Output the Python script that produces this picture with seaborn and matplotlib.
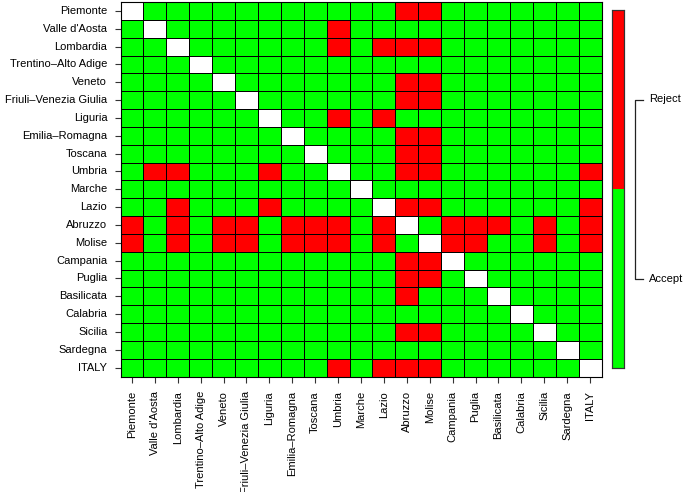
import numpy as np
import pandas as pd
import matplotlib
matplotlib.use("Agg")
import matplotlib.pyplot as plt
from matplotlib.colors import ListedColormap
import seaborn as sns

regions = ["Piemonte", "Valle d'Aosta", "Lombardia", "Trentino\u2013Alto Adige", "Veneto",
           "Friuli\u2013Venezia Giulia", "Liguria", "Emilia\u2013Romagna", "Toscana", "Umbria",
           "Marche", "Lazio", "Abruzzo", "Molise", "Campania", "Puglia", "Basilicata",
           "Calabria", "Sicilia", "Sardegna", "ITALY"]

# rejected pairs (row, list of rejected columns); the matrix is symmetric, diagonal empty
rejects = {
    "Piemonte": ["Abruzzo", "Molise"],
    "Valle d'Aosta": ["Umbria"],
    "Lombardia": ["Umbria", "Lazio", "Abruzzo", "Molise"],
    "Trentino\u2013Alto Adige": [],
    "Veneto": ["Abruzzo", "Molise"],
    "Friuli\u2013Venezia Giulia": ["Abruzzo", "Molise"],
    "Liguria": ["Umbria", "Lazio"],
    "Emilia\u2013Romagna": ["Abruzzo", "Molise"],
    "Toscana": ["Abruzzo", "Molise"],
    "Umbria": ["Valle d'Aosta", "Lombardia", "Liguria", "Abruzzo", "Molise", "ITALY"],
    "Marche": [],
    "Lazio": ["Lombardia", "Liguria", "Abruzzo", "Molise", "ITALY"],
    "Abruzzo": ["Piemonte", "Lombardia", "Veneto", "Friuli\u2013Venezia Giulia", "Emilia\u2013Romagna",
                "Toscana", "Umbria", "Lazio", "Campania", "Puglia", "Basilicata", "Sicilia", "ITALY"],
    "Molise": ["Piemonte", "Lombardia", "Veneto", "Friuli\u2013Venezia Giulia", "Emilia\u2013Romagna",
               "Toscana", "Umbria", "Lazio", "Campania", "Puglia", "Sicilia", "ITALY"],
    "Campania": ["Abruzzo", "Molise"],
    "Puglia": ["Abruzzo", "Molise"],
    "Basilicata": ["Abruzzo"],
    "Calabria": [],
    "Sicilia": ["Abruzzo", "Molise"],
    "Sardegna": [],
    "ITALY": ["Umbria", "Lazio", "Abruzzo", "Molise"],
}
legend_labels = ["Accept", "Reject"]
colors = ["#00FF00", "#FF0000"]

n = len(regions)
mat = pd.DataFrame(np.zeros((n, n)), index=regions, columns=regions)
for r, cols in rejects.items():
    for c in cols:
        mat.loc[r, c] = 1.0
for r in regions:
    mat.loc[r, r] = np.nan

plt.rcParams["font.family"] = ["Liberation Sans", "DejaVu Sans"]
fig = plt.figure(figsize=(6.85, 4.92), dpi=100)
W, H = 685, 492
ax = fig.add_axes([120.5 / W, 1 - 376.5 / H, 481 / W, 374.5 / H])
cax = fig.add_axes([612 / W, 1 - 368 / H, 12 / W, 358 / H])

sns.heatmap(mat, ax=ax, cmap=ListedColormap(colors), vmin=0, vmax=1,
            linewidths=0.7, linecolor="black", cbar_ax=cax, square=False)
ax.set_facecolor("white")
for s in ax.spines.values():
    s.set_visible(True)
    s.set_color("black")
    s.set_linewidth(0.8)
ax.set_xlabel("")
ax.set_ylabel("")
ax.set_xticks(np.arange(n) + 0.5)
ax.set_yticks(np.arange(n) + 0.5)
ax.set_xticklabels(regions, rotation=90, fontsize=8, va="top")
ax.set_yticklabels(regions, rotation=0, fontsize=8)
ax.tick_params(axis="x", length=4.5, width=0.8, color="#333333", pad=6)
ax.tick_params(axis="y", length=4.5, width=0.8, color="#333333", pad=5)

cax.set_yticks([])
cax.set_xticks([])
for s in cax.spines.values():
    s.set_visible(True)
    s.set_color("#333333")
    s.set_linewidth(0.8)
# bracket with labels
tr = cax.transAxes
x_line = (635 - 612) / 12
x_tick = (643 - 612) / 12
x_text = (649 - 612) / 12
y_rej, y_acc = 0.75, 0.25
cax.plot([x_tick, x_line, x_line, x_tick], [y_rej, y_rej, y_acc, y_acc],
         transform=tr, color="#222222", lw=0.9, clip_on=False)
cax.text(x_text, y_rej, legend_labels[1], transform=tr, fontsize=8, va="center", ha="left")
cax.text(x_text, y_acc, legend_labels[0], transform=tr, fontsize=8, va="center", ha="left")

fig.savefig("out.png", dpi=100)
